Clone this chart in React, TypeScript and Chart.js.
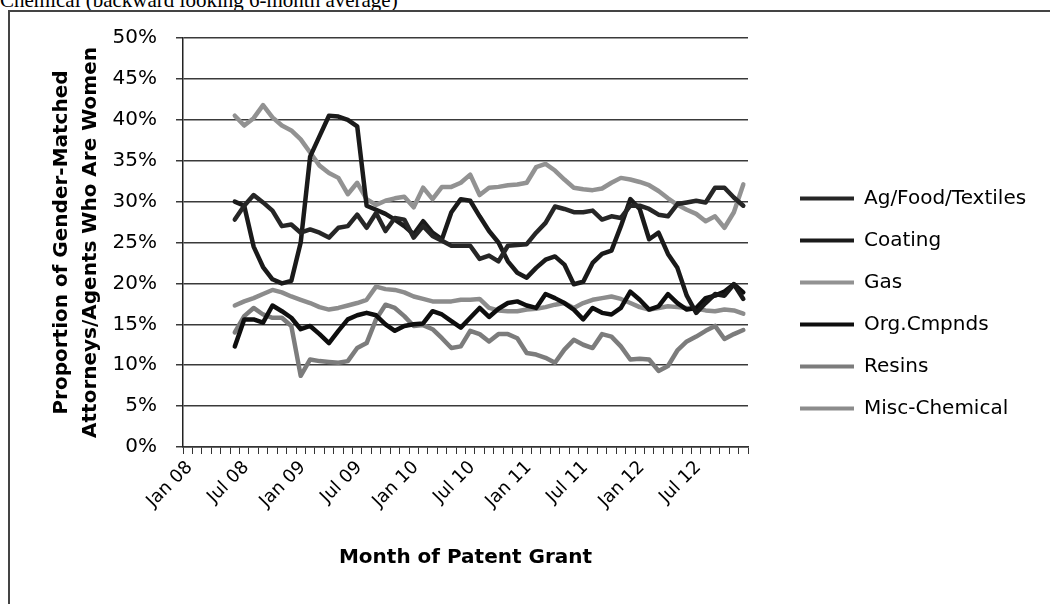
import { useEffect, useRef } from 'react';
import { Chart, registerables } from 'chart.js';

Chart.register(...registerables);

const months = [
  'Jan 08', 'Feb 08', 'Mar 08', 'Apr 08', 'May 08', 'Jun 08', 'Jul 08', 'Aug 08', 'Sep 08', 'Oct 08', 'Nov 08', 'Dec 08',
  'Jan 09', 'Feb 09', 'Mar 09', 'Apr 09', 'May 09', 'Jun 09', 'Jul 09', 'Aug 09', 'Sep 09', 'Oct 09', 'Nov 09', 'Dec 09',
  'Jan 10', 'Feb 10', 'Mar 10', 'Apr 10', 'May 10', 'Jun 10', 'Jul 10', 'Aug 10', 'Sep 10', 'Oct 10', 'Nov 10', 'Dec 10',
  'Jan 11', 'Feb 11', 'Mar 11', 'Apr 11', 'May 11', 'Jun 11', 'Jul 11', 'Aug 11', 'Sep 11', 'Oct 11', 'Nov 11', 'Dec 11',
  'Jan 12', 'Feb 12', 'Mar 12', 'Apr 12', 'May 12', 'Jun 12', 'Jul 12', 'Aug 12', 'Sep 12', 'Oct 12', 'Nov 12', 'Dec 12',
];

const xTickLabels = ['Jan 08', 'Jul 08', 'Jan 09', 'Jul 09', 'Jan 10', 'Jul 10', 'Jan 11', 'Jul 11', 'Jan 12', 'Jul 12'];
const yTickLabels = ['0%', '5%', '10%', '15%', '20%', '25%', '30%', '35%', '40%', '45%', '50%'];

const N = null;

const agFood = [N, N, N, N, N,
  27.8, 29.5, 30.8, 29.9, 28.9, 27.0, 27.2,
  26.2, 26.6, 26.2, 25.6, 26.8, 27.0, 28.4, 26.8, 28.6, 26.4, 28.0, 27.8,
  25.6, 27.0, 25.8, 25.2, 24.6, 24.6, 24.6, 23.0, 23.4, 22.7, 24.6, 24.7,
  24.8, 26.2, 27.4, 29.4, 29.1, 28.7, 28.7, 28.9, 27.8, 28.2, 28.0, 29.5,
  29.5, 29.1, 28.4, 28.2, 29.7, 29.9, 30.1, 29.9, 31.7, 31.7, 30.5, 29.5];

const coating = [N, N, N, N, N,
  30.0, 29.5, 24.5, 22.0, 20.5, 20.0, 20.3,
  25.0, 35.5, 38.0, 40.5, 40.4, 40.0, 39.2, 29.5, 29.0, 28.5, 27.8, 27.0,
  26.0, 27.6, 26.2, 25.4, 28.7, 30.3, 30.1, 28.2, 26.4, 25.0, 22.7, 21.3,
  20.7, 21.9, 22.9, 23.3, 22.3, 19.9, 20.2, 22.5, 23.6, 24.0, 27.0, 30.3,
  29.1, 25.4, 26.2, 23.6, 21.9, 18.5, 16.4, 17.6, 18.7, 18.5, 19.9, 18.1];

const gas = [N, N, N, N, N,
  40.5, 39.3, 40.2, 41.8, 40.3, 39.3, 38.7,
  37.6, 36.0, 34.4, 33.5, 32.9, 30.9, 32.3, 30.3, 29.6, 30.1, 30.4, 30.6,
  29.3, 31.7, 30.3, 31.8, 31.8, 32.3, 33.3, 30.8, 31.7, 31.8, 32.0, 32.1,
  32.3, 34.2, 34.6, 33.8, 32.7, 31.7, 31.5, 31.4, 31.6, 32.3, 32.9, 32.7,
  32.4, 32.0, 31.3, 30.4, 29.6, 29.0, 28.5, 27.6, 28.2, 26.8, 28.7, 32.1];

const orgCmpnds = [N, N, N, N, N,
  12.3, 15.6, 15.6, 15.2, 17.3, 16.6, 15.8,
  14.4, 14.8, 13.8, 12.7, 14.2, 15.6, 16.1, 16.4, 16.1, 15.0, 14.2, 14.8,
  15.0, 15.1, 16.6, 16.2, 15.4, 14.6, 15.8, 17.0, 15.9, 16.9, 17.6, 17.8,
  17.3, 17.0, 18.7, 18.2, 17.6, 16.8, 15.6, 17.0, 16.4, 16.2, 17.0, 19.0,
  18.0, 16.8, 17.2, 18.7, 17.6, 16.8, 17.0, 18.2, 18.5, 19.0, 19.9, 18.9];

const resins = [N, N, N, N, N,
  14.0, 16.0, 17.0, 16.2, 15.8, 15.8, 14.8,
  8.7, 10.7, 10.5, 10.4, 10.3, 10.5, 12.1, 12.7, 15.6, 17.4, 17.0, 16.0,
  14.8, 14.9, 14.4, 13.3, 12.1, 12.3, 14.2, 13.8, 12.9, 13.8, 13.8, 13.3,
  11.5, 11.3, 10.9, 10.3, 11.9, 13.1, 12.5, 12.1, 13.8, 13.5, 12.3, 10.7,
  10.8, 10.7, 9.3, 9.9, 11.8, 12.9, 13.5, 14.2, 14.8, 13.2, 13.8, 14.3];

const miscChemical = [N, N, N, N, N,
  17.3, 17.8, 18.2, 18.7, 19.2, 18.9, 18.4,
  18.0, 17.6, 17.1, 16.8, 17.0, 17.3, 17.6, 18.0, 19.6, 19.3, 19.2, 18.9,
  18.4, 18.1, 17.8, 17.8, 17.8, 18.0, 18.0, 18.1, 17.0, 16.7, 16.6, 16.6,
  16.8, 16.9, 17.1, 17.4, 17.6, 17.0, 17.6, 18.0, 18.2, 18.4, 18.1, 17.6,
  17.1, 16.8, 17.0, 17.2, 17.1, 17.0, 16.9, 16.7, 16.6, 16.8, 16.7, 16.3];

const seriesNames = ['Ag/Food/Textiles', 'Coating', 'Gas', 'Org.Cmpnds', 'Resins', 'Misc-Chemical'];
const seriesData = [agFood, coating, gas, orgCmpnds, resins, miscChemical];
const seriesColors = ['#262626', '#1a1a1a', '#929292', '#0e0e0e', '#7c7c7c', '#8c8c8c'];

const FONT = '"DejaVu Sans", sans-serif';

const legendWidthPlugin = {
  id: 'legendWidth',
  beforeLayout(chart: any) {
    const lg = chart.legend;
    if (lg && !lg.__fixed) {
      const orig = lg.fit.bind(lg);
      lg.fit = function () {
        orig();
        this.width = 260;
      };
      lg.__fixed = true;
    }
  },
};

export default function App() {
  const ref = useRef<HTMLCanvasElement>(null);

  useEffect(() => {
    const canvas = ref.current;
    if (!canvas) return;
    const chart = new Chart(canvas, {
      type: 'line',
      plugins: [legendWidthPlugin],
      data: {
        labels: months,
        datasets: seriesNames.map((name, i) => ({
          label: name,
          data: seriesData[i],
          borderColor: seriesColors[i],
          backgroundColor: seriesColors[i],
          borderWidth: 4.5,
          pointRadius: 0,
          pointHoverRadius: 0,
          tension: 0,
          borderJoinStyle: 'round' as const,
          borderCapStyle: 'round' as const,
          spanGaps: false,
        })),
      },
      options: {
        responsive: false,
        animation: false,
        devicePixelRatio: 1,
        layout: { padding: { left: 0, top: 30, right: 8, bottom: 32 } },
        plugins: {
          tooltip: { enabled: false },
          legend: {
            position: 'right',
            labels: {
              boxWidth: 54,
              boxHeight: 4,
              padding: 22,
              color: '#000',
              font: { family: FONT, size: 20 },
              generateLabels: (c: any) =>
                Chart.defaults.plugins.legend.labels.generateLabels(c).map((l: any) => ({ ...l, lineWidth: 0 })),
            },
          },
        },
        scales: {
          x: {
            type: 'category',
            offset: true,
            grid: {
              display: true,
              drawOnChartArea: false,
              drawTicks: true,
              tickLength: 7,
              offset: true,
              color: '#333',
              lineWidth: 1,
            },
            border: { display: true, color: '#333', width: 1.5 },
            ticks: {
              autoSkip: false,
              minRotation: 45,
              maxRotation: 45,
              padding: 3,
              labelOffset: 2,
              color: '#000',
              font: { family: FONT, size: 18 },
              callback: (_v: any, i: number) => (i % 6 === 0 ? xTickLabels[i / 6] : ''),
            },
            title: {
              display: true,
              text: 'Month of Patent Grant',
              color: '#000',
              font: { family: FONT, size: 20, weight: 'bold' },
              padding: { top: 0, bottom: 0 },
            },
            afterFit: (s: any) => {
              s.height = 123;
            },
          },
          y: {
            min: 0,
            max: 50,
            ticks: {
              stepSize: 5,
              padding: 19,
              color: '#000',
              font: { family: FONT, size: 20 },
              callback: (_v: any, i: number) => yTickLabels[i],
            },
            grid: {
              color: '#3a3a3a',
              lineWidth: 1.5,
              drawTicks: true,
              tickLength: 7,
              tickColor: '#3a3a3a',
            },
            border: { display: true, color: '#222', width: 1.5 },
            title: {
              display: true,
              text: ['Proportion of Gender-Matched', 'Attorneys/Agents Who Are Women'],
              color: '#000',
              font: { family: FONT, size: 20, weight: 'bold', lineHeight: '29px' },
              padding: { top: 37.5, bottom: 0 },
            },
            afterFit: (s: any) => {
              s.width = 173;
            },
          },
          y2: {
            position: 'right',
            display: true,
            grid: { display: false },
            ticks: { display: false },
            border: { display: false },
            afterFit: (s: any) => {
              s.width = 30;
            },
          },
        },
      } as any,
    });
    return () => chart.destroy();
  }, []);

  return (
    <div
      style={{
        position: 'fixed',
        left: 0,
        top: 0,
        width: 1050,
        height: 604,
        background: '#fff',
        overflow: 'hidden',
      }}
    >
      <div
        style={{
          position: 'absolute',
          left: 0,
          top: -12,
          fontFamily: '"Liberation Serif", serif',
          fontSize: 21,
          whiteSpace: 'nowrap',
          color: '#000',
        }}
      >
        Chemical (backward looking 6-month average)
      </div>
      <div
        style={{
          position: 'absolute',
          left: 8,
          top: 10,
          width: 1060,
          height: 620,
          borderLeft: '2px solid #444',
          borderTop: '2px solid #444',
          boxSizing: 'border-box',
        }}
      />
      <canvas
        ref={ref}
        width={1036}
        height={595}
        style={{ position: 'absolute', left: 10, top: 7, width: 1036, height: 595 }}
      />
    </div>
  );
}
